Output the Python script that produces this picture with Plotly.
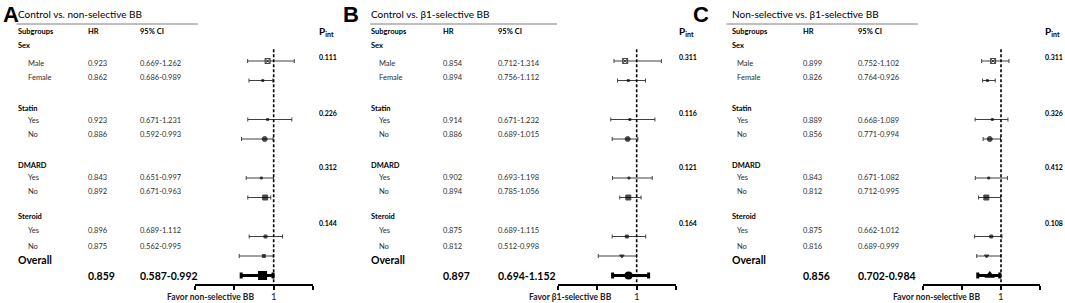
import plotly.graph_objects as go

# ------------------------------------------------------------------ data
panel_letters = ["A", "B", "C"]
panel_titles = ["Control vs. non-selective BB",
                "Control vs. β1-selective BB",
                "Non-selective vs. β1-selective BB"]
favor_labels = ["Favor non-selective BB", "Favor β1-selective BB", "Favor non-selective BB"]

group_names = ["Sex", "Statin", "DMARD", "Steroid"]
subgroup_names = ["Male", "Female", "Yes", "No", "Yes", "No", "Yes", "No"]

hr_A = [0.923, 0.862, 0.923, 0.886, 0.843, 0.892, 0.896, 0.875]
lo_A = [0.669, 0.686, 0.671, 0.592, 0.651, 0.671, 0.689, 0.562]
hi_A = [1.262, 0.989, 1.231, 0.993, 0.997, 0.963, 1.112, 0.995]
p_A = ["0.111", "0.226", "0.312", "0.144"]

hr_B = [0.854, 0.894, 0.914, 0.886, 0.902, 0.894, 0.875, 0.812]
lo_B = [0.712, 0.756, 0.671, 0.689, 0.693, 0.785, 0.689, 0.512]
hi_B = [1.314, 1.112, 1.232, 1.015, 1.198, 1.056, 1.115, 0.998]
p_B = ["0.311", "0.116", "0.121", "0.164"]

hr_C = [0.899, 0.826, 0.889, 0.856, 0.843, 0.812, 0.875, 0.816]
lo_C = [0.752, 0.764, 0.668, 0.771, 0.671, 0.712, 0.662, 0.689]
hi_C = [1.102, 0.926, 1.089, 0.994, 1.082, 0.995, 1.012, 0.999]
p_C = ["0.311", "0.326", "0.412", "0.108"]

overall_hr = [0.859, 0.897, 0.856]
overall_lo = [0.587, 0.694, 0.702]
overall_hi = [0.992, 1.152, 0.984]

axis_ticks = [0, 0.5, 1, 1.5]
null_value = 1

panels = [
    dict(hr=hr_A, lo=lo_A, hi=hi_A, p=p_A),
    dict(hr=hr_B, lo=lo_B, hi=hi_B, p=p_B),
    dict(hr=hr_C, lo=lo_C, hi=hi_C, p=p_C),
]

# ------------------------------------------------------------------ layout / style
W, H = 1065, 303
FONT = "Lato"
GRAY = "#2e2e2e"

cols = [
    dict(letter=1.5, label=17, sub=26.5, hr=86.5, ci=139, p=318, ax=(195, 313), line=(16.5, 198), favor=165.5),
    dict(letter=341.5, label=370, sub=377.5, hr=441.5, ci=496.5, p=678, ax=(558, 676), line=(370, 557), favor=528),
    dict(letter=691.5, label=730.5, sub=736, hr=801.5, ci=856.5, p=1043.5, ax=(923, 1040), line=(726.5, 918), favor=891.5),
]
y_header = 31.7
y_groups = [45, 108.3, 165, 216]
y_subs = [63.3, 77.3, 120.7, 134.5, 177, 191, 230.3, 246]
y_p = [57.3, 112.7, 167.3, 222.7]
y_overall_label = 260
y_overall_vals = 275.5
y_favor = 296.5
y_title = 14.5
y_letter = 14
y_titleline = 24

row_index = [0, 1, 3, 4, 6, 7, 9, 10]
overall_index = 11
ROW0_PX, ROW_STEP = 61, 19.5
AXIS_PX = 285.3

sym = [
    ["square-x-open", "square", "square", "circle", "square", "square", "square", "square"],
    ["square-x-open", "square", "square", "circle", "square", "square", "square", "triangle-down"],
    ["square-x-open", "square", "square", "circle", "square", "square", "square", "triangle-down"],
]
size = [
    [5, 2, 2, 5, 2, 5, 3, 3],
    [5, 2, 2, 5, 2, 5, 3, 4],
    [5, 2, 2, 5, 2, 5, 3, 4],
]
overall_sym = ["square", "circle", "triangle-up"]
overall_size = [9, 8, 9]


def px(x):
    return x / W


def py(y):
    return 1 - y / H


fig = go.Figure()
annotations = []
shapes = []


def txt(x, y, s, size=9, bold=False, color=GRAY, family=FONT, xanchor="left", xref="paper"):
    annotations.append(dict(
        x=px(x) if xref == "paper" else x, y=py(y), xref=xref, yref="paper",
        xanchor=xanchor, yanchor="middle",
        text=f"<b>{s}</b>" if bold else s, showarrow=False,
        font=dict(family=family, size=size, color=color), borderpad=0))


for k, pan in enumerate(panels):
    c = cols[k]
    xa = "x" if k == 0 else f"x{k+1}"
    fig.add_trace(go.Scatter(
        x=pan["hr"], y=row_index, xaxis=xa, yaxis="y", mode="markers",
        marker=dict(symbol=sym[k], size=size[k], color="black", line=dict(color="black", width=1)),
        error_x=dict(type="data", symmetric=False,
                     array=[h - m for h, m in zip(pan["hi"], pan["hr"])],
                     arrayminus=[m - l for m, l in zip(pan["hr"], pan["lo"])],
                     color="#404040", thickness=1, width=2),
        showlegend=False, hoverinfo="skip"))
    fig.add_trace(go.Scatter(
        x=[overall_hr[k]], y=[overall_index], xaxis=xa, yaxis="y", mode="markers",
        marker=dict(symbol=overall_sym[k], size=overall_size[k], color="black"),
        error_x=dict(type="data", symmetric=False,
                     array=[overall_hi[k] - overall_hr[k]],
                     arrayminus=[overall_hr[k] - overall_lo[k]],
                     color="black", thickness=3, width=3),
        showlegend=False, hoverinfo="skip"))

    shapes.append(dict(type="line", xref=xa, yref="y", x0=null_value, x1=null_value,
                       y0=-0.6, y1=(AXIS_PX - ROW0_PX) / ROW_STEP,
                       line=dict(color="black", width=1.6, dash="3px,2px")))
    shapes.append(dict(type="line", xref="paper", yref="paper",
                       x0=px(c["line"][0]), x1=px(c["line"][1]), y0=py(y_titleline), y1=py(y_titleline),
                       line=dict(color="#7f7f7f", width=1)))

    txt(c["letter"], y_letter, panel_letters[k], size=22, bold=True, color="black",
        family="Liberation Sans")
    txt(c["label"], y_title, panel_titles[k], size=10, color="black")
    txt(c["label"], y_header, "Subgroups", size=7.5, bold=True, color="black")
    txt(c["hr"], y_header, "HR", size=7.5, bold=True, color="black")
    txt(c["ci"], y_header, "95% CI", size=7.5, bold=True, color="black")
    txt(c["p"], y_header, "P<sub>int</sub>", size=10, bold=True, color="black")
    for g, name in enumerate(group_names):
        txt(c["label"], y_groups[g], name, size=7.5, bold=True, color="black")
        txt(c["p"], y_p[g], pan["p"][g], size=7, bold=True, color="black")
    for i, name in enumerate(subgroup_names):
        txt(c["sub"], y_subs[i], name, size=7.5)
        txt(c["hr"], y_subs[i], f"{pan['hr'][i]:.3f}", size=7.5)
        txt(c["ci"], y_subs[i], f"{pan['lo'][i]:.3f}-{pan['hi'][i]:.3f}", size=7.5)
    txt(c["label"], y_overall_label, "Overall", size=10.5, bold=True, color="black")
    txt(c["hr"], y_overall_vals, f"{overall_hr[k]:.3f}", size=10.5, bold=True, color="black")
    txt(c["ci"], y_overall_vals, f"{overall_lo[k]:.3f}-{overall_hi[k]:.3f}", size=10.5, bold=True,
        color="black")
    txt(c["favor"], y_favor, favor_labels[k], size=8.5, bold=True, color="#222222")
    # label of the null value under the axis
    txt(null_value, y_favor, f"{null_value:g}", size=9.5, bold=False, color="#222222",
        xanchor="center", xref=xa)

axis_pos = 1 - AXIS_PX / H
for k in range(3):
    c = cols[k]
    name = "xaxis" if k == 0 else f"xaxis{k+1}"
    fig.layout[name] = dict(
        domain=[px(c["ax"][0]), px(c["ax"][1])], range=[axis_ticks[0], axis_ticks[-1]],
        anchor="free", position=axis_pos,
        showline=True, linecolor="black", linewidth=2,
        ticks="outside", ticklen=4, tickwidth=2, tickcolor="black",
        tickvals=axis_ticks, showticklabels=False,
        showgrid=False, zeroline=False, fixedrange=True)

fig.update_layout(
    width=W, height=H,
    margin=dict(l=0, r=0, t=0, b=0, pad=0),
    paper_bgcolor="white", plot_bgcolor="rgba(0,0,0,0)",
    yaxis=dict(domain=[0, 1], range=[(H - ROW0_PX) / ROW_STEP, -ROW0_PX / ROW_STEP],
               visible=False, fixedrange=True),
    annotations=annotations, shapes=shapes, showlegend=False,
)

fig.write_html("out.html", config={"displayModeBar": False},
               post_script="document.body.style.margin='0px';document.body.style.overflow='hidden';")
